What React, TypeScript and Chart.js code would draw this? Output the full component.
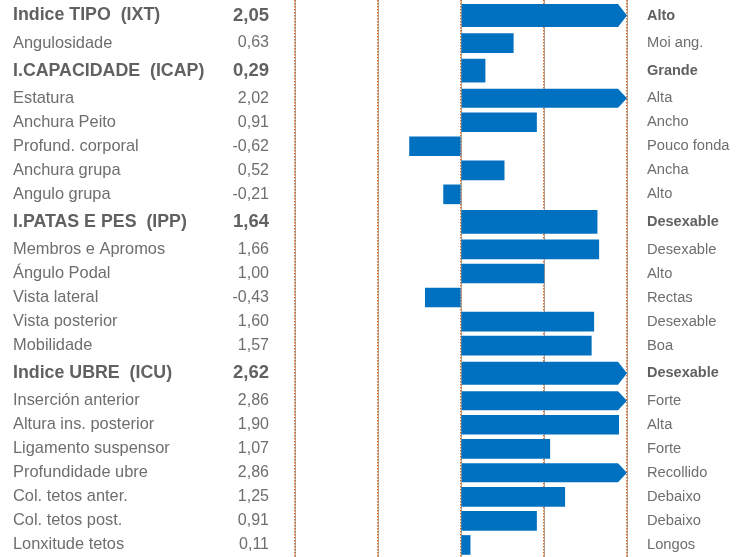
import React, { useEffect, useRef } from "react";
import { Chart, registerables } from "chart.js";

Chart.register(...registerables);

// ---- data ----
const traitNames = [
  "Indice TIPO  (IXT)",
  "Angulosidade",
  "I.CAPACIDADE  (ICAP)",
  "Estatura",
  "Anchura Peito",
  "Profund. corporal",
  "Anchura grupa",
  "Angulo grupa",
  "I.PATAS E PES  (IPP)",
  "Membros e Apromos",
  "Ángulo Podal",
  "Vista lateral",
  "Vista posterior",
  "Mobilidade",
  "Indice UBRE  (ICU)",
  "Inserción anterior",
  "Altura ins. posterior",
  "Ligamento suspensor",
  "Profundidade ubre",
  "Col. tetos anter.",
  "Col. tetos post.",
  "Lonxitude tetos",
];

const traitValues = [
  2.05, 0.63, 0.29, 2.02, 0.91, -0.62, 0.52, -0.21, 1.64, 1.66, 1.0, -0.43,
  1.6, 1.57, 2.62, 2.86, 1.9, 1.07, 2.86, 1.25, 0.91, 0.11,
];

const traitDescriptors = [
  "Alto",
  "Moi ang.",
  "Grande",
  "Alta",
  "Ancho",
  "Pouco fonda",
  "Ancha",
  "Alto",
  "Desexable",
  "Desexable",
  "Alto",
  "Rectas",
  "Desexable",
  "Boa",
  "Desexable",
  "Forte",
  "Alta",
  "Forte",
  "Recollido",
  "Debaixo",
  "Debaixo",
  "Longos",
];

const isIndexRow = [
  true, false, true, false, false, false, false, false, true, false, false,
  false, false, false, true, false, false, false, false, false, false, false,
];

const axisTicks = [-2, -1, 0, 1, 2];

// ---- layout / style ----
const FONT = '"Liberation Sans", Arial, Helvetica, sans-serif';
const BAR_BLUE = "#0070C0";
const TEXT_NORMAL = "#6e6e6e";
const TEXT_BOLD = "#616161";
const ROW_H = 24;
const INDEX_ROW_H = 31;
const LEFT_PAD = 13;
const NAMES_W = 210;
const PLOT_LEFT = 295;
const PLOT_RIGHT = 627;
const CANVAS_W = 748;
const CANVAS_H = 557;

let acc = 0;
const rowCenters = isIndexRow.map((b) => {
  const h = b ? INDEX_ROW_H : ROW_H;
  const c = acc + h / 2;
  acc += h;
  return c;
});
const TOTAL_H = acc;

const fmt = (v: number) => v.toFixed(2).replace(".", ",");

const arrowPlugin = {
  id: "overflowArrows",
  afterDatasetsDraw(chart: any) {
    const xScale = chart.scales.x;
    const maxV = xScale.max;
    const tip = xScale.getPixelForValue(maxV);
    const ctx = chart.ctx;
    chart.data.datasets.forEach((ds: any, di: number) => {
      const meta = chart.getDatasetMeta(di);
      meta.data.forEach((el: any, i: number) => {
        const raw = ds.data[i];
        if (raw && raw.x > maxV) {
          const h = el.height;
          const depth = 9;
          const y = el.y;
          ctx.save();
          ctx.fillStyle = BAR_BLUE;
          ctx.beginPath();
          ctx.moveTo(el.base, y - h / 2);
          ctx.lineTo(tip - depth, y - h / 2);
          ctx.lineTo(tip, y);
          ctx.lineTo(tip - depth, y + h / 2);
          ctx.lineTo(el.base, y + h / 2);
          ctx.closePath();
          ctx.fill();
          ctx.restore();
        }
      });
    });
  },
};

const setRowTicks = (s: any) => {
  s.ticks = rowCenters.map((v) => ({ value: v }));
};
const setAxisTicks = (s: any) => {
  s.ticks = axisTicks.map((v) => ({ value: v }));
};

const hiddenGrid = { display: false, drawTicks: false };
const hiddenBorder = { display: false };

export default function App() {
  const ref = useRef<HTMLCanvasElement>(null);

  useEffect(() => {
    if (!ref.current) return;
    const pts = (wantIndex: boolean) =>
      traitValues
        .map((v, i) => ({ x: v, y: rowCenters[i], idx: i }))
        .filter((p) => isIndexRow[p.idx] === wantIndex);

    const colorFn = (ctx: any) =>
      ctx.raw && ctx.raw.x > axisTicks[axisTicks.length - 1]
        ? "rgba(0,0,0,0)"
        : BAR_BLUE;

    const zeroHeight = (s: any) => {
      s.paddingLeft = 0;
      s.paddingRight = 0;
      s.height = 0;
    };

    const chart = new Chart(ref.current, {
      type: "bar",
      data: {
        datasets: [
          {
            data: pts(false) as any,
            backgroundColor: colorFn,
            borderWidth: 0,
            barThickness: 19,
            grouped: false,
            xAxisID: "x",
            yAxisID: "y",
          },
          {
            data: pts(true) as any,
            backgroundColor: colorFn,
            borderWidth: 0,
            barThickness: 23,
            grouped: false,
            xAxisID: "x",
            yAxisID: "y",
          },
        ],
      },
      options: {
        indexAxis: "y",
        responsive: false,
        animation: false,
        events: [],
        layout: { padding: { left: LEFT_PAD, right: 0, top: 0, bottom: 0 } },
        plugins: { legend: { display: false }, tooltip: { enabled: false } },
        scales: {
          xUnder: {
            type: "linear",
            position: "bottom",
            min: axisTicks[0],
            max: axisTicks[axisTicks.length - 1],
            afterBuildTicks: setAxisTicks,
            ticks: { display: false },
            grid: {
              display: true,
              drawTicks: false,
              color: "rgba(120,110,105,0.6)",
              lineWidth: 1,
              z: -2,
            },
            border: { display: false },
            afterFit: zeroHeight,
          },
          x: {
            type: "linear",
            position: "bottom",
            min: axisTicks[0],
            max: axisTicks[axisTicks.length - 1],
            afterBuildTicks: setAxisTicks,
            ticks: { display: false },
            grid: {
              display: true,
              drawTicks: false,
              color: "#d86a22",
              lineWidth: 1.4,
              z: -1,
            },
            border: { display: false, dash: [1.5, 1.5] },
            afterFit: zeroHeight,
          },
          y: {
            type: "linear",
            position: "left",
            weight: 2,
            min: 0,
            max: TOTAL_H,
            reverse: true,
            offset: false,
            afterBuildTicks: setRowTicks,
            ticks: {
              autoSkip: false,
              crossAlign: "far",
              padding: 0,
              callback: (_v: any, i: number) => traitNames[i],
              color: (c: any) => (isIndexRow[c.index] ? TEXT_BOLD : TEXT_NORMAL),
              font: (c: any) =>
                isIndexRow[c.index]
                  ? { family: FONT, size: 17.8, weight: "bold" }
                  : { family: FONT, size: 16.4, weight: "normal" },
            },
            grid: hiddenGrid,
            border: hiddenBorder,
            afterFit: (s: any) => {
              s.width = NAMES_W;
              s.paddingTop = 0;
              s.paddingBottom = 0;
            },
          },
          yVal: {
            type: "linear",
            position: "left",
            weight: 1,
            min: 0,
            max: TOTAL_H,
            reverse: true,
            offset: false,
            afterBuildTicks: setRowTicks,
            ticks: {
              autoSkip: false,
              crossAlign: "near",
              padding: 26,
              callback: (_v: any, i: number) => fmt(traitValues[i]),
              color: (c: any) => (isIndexRow[c.index] ? TEXT_BOLD : TEXT_NORMAL),
              font: (c: any) =>
                isIndexRow[c.index]
                  ? { family: FONT, size: 18.5, weight: "bold" }
                  : { family: FONT, size: 16, weight: "normal" },
            },
            grid: hiddenGrid,
            border: hiddenBorder,
            afterFit: (s: any) => {
              s.width = PLOT_LEFT - LEFT_PAD - NAMES_W;
              s.paddingTop = 0;
              s.paddingBottom = 0;
            },
          },
          yDesc: {
            type: "linear",
            position: "right",
            min: 0,
            max: TOTAL_H,
            reverse: true,
            offset: false,
            afterBuildTicks: setRowTicks,
            ticks: {
              autoSkip: false,
              crossAlign: "near",
              padding: 20,
              callback: (_v: any, i: number) => traitDescriptors[i],
              color: (c: any) => (isIndexRow[c.index] ? TEXT_BOLD : TEXT_NORMAL),
              font: (c: any) =>
                isIndexRow[c.index]
                  ? { family: FONT, size: 14.5, weight: "bold" }
                  : { family: FONT, size: 14.7, weight: "normal" },
            },
            grid: hiddenGrid,
            border: hiddenBorder,
            afterFit: (s: any) => {
              s.width = CANVAS_W - PLOT_RIGHT;
              s.paddingTop = 0;
              s.paddingBottom = 0;
            },
          },
        } as any,
      },
      plugins: [arrowPlugin],
    });
    return () => chart.destroy();
  }, []);

  return (
    <div
      style={{
        position: "fixed",
        left: 0,
        top: 0,
        width: CANVAS_W,
        height: CANVAS_H,
        background: "#fff",
      }}
    >
      <canvas
        ref={ref}
        width={CANVAS_W}
        height={CANVAS_H}
        style={{ display: "block" }}
      />
    </div>
  );
}
